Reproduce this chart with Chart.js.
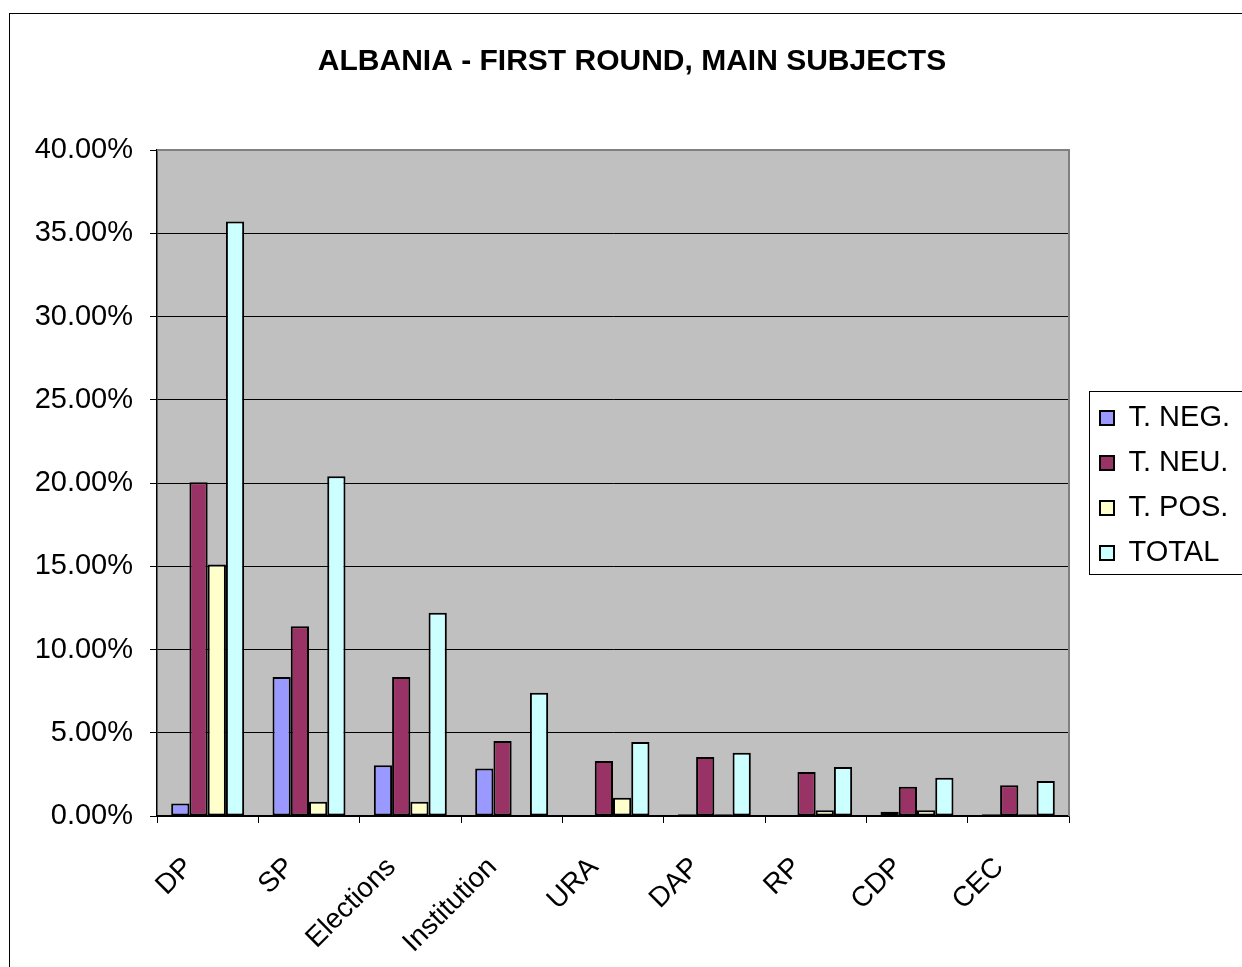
<!DOCTYPE html>
<html>
<head>
<meta charset="utf-8">
<script src="https://cdn.jsdelivr.net/npm/chart.js@4/dist/chart.umd.min.js"></script>
<style>
  html, body { margin: 0; padding: 0; background: #fff; }
  #wrap { position: relative; width: 1242px; height: 967px; }
</style>
</head>
<body>
<div id="wrap"><canvas id="chart" width="1242" height="967"></canvas></div>
<script>
// Subjects and their share of coverage (%), by tone
const categories = ['DP', 'SP', 'Elections', 'Institution', 'URA', 'DAP', 'RP', 'CDP', 'CEC'];
const negValues   = [0.75, 8.35, 3.05, 2.85, 0,    0.1,  0,    0.25, 0.1];
const neuValues   = [20.05, 11.4, 8.35, 4.5, 3.3,  3.55, 2.65, 1.75, 1.85];
const posValues   = [15.1, 0.85, 0.85, 0,    1.1,  0.1,  0.35, 0.35, 0.1];
const totalValues = [35.7, 20.4, 12.2, 7.4,  4.45, 3.8,  2.95, 2.3,  2.1];
const seriesNames = ['T. NEG.', 'T. NEU.', 'T. POS.', 'TOTAL'];
const yTicks = [0, 5, 10, 15, 20, 25, 30, 35, 40];

const FONT = "'Liberation Sans', Arial, sans-serif";

const plotBackground = {
  id: 'plotBackground',
  beforeDraw(chart) {
    const { ctx, chartArea: a } = chart;
    ctx.save();
    ctx.fillStyle = '#C0C0C0';
    ctx.fillRect(a.left, a.top, a.right - a.left, a.bottom - a.top);
    ctx.restore();
  },
  beforeDatasetsDraw(chart) {
    const { ctx, chartArea: a } = chart;
    ctx.save();
    ctx.strokeStyle = '#808080';
    ctx.lineWidth = 2;
    ctx.beginPath();
    ctx.moveTo(a.left, a.top);
    ctx.lineTo(a.right, a.top);
    ctx.lineTo(a.right, a.bottom);
    ctx.stroke();
    ctx.restore();
  }
};

// Fixed legend column width, and a framed legend box
const legendFrame = {
  id: 'legendFrame',
  beforeUpdate(chart) {
    const lg = chart.legend;
    if (lg && !lg._widthFixed) {
      const fit = lg.fit;
      lg.fit = function () { fit.call(this); this.width = 173; };
      lg._widthFixed = true;
    }
  },
  afterLayout(chart) {
    const lg = chart.legend;
    lg.left += 15;
    lg.right += 15;
    lg.top += 2;
    lg.bottom += 2;
  },
  afterDraw(chart) {
    const { ctx } = chart;
    const hb = chart.legend.legendHitBoxes;
    if (!hb || !hb.length) return;
    const first = hb[0], last = hb[hb.length - 1];
    const top = first.top + first.height / 2 - 27;
    const bottom = last.top + last.height / 2 + 21;
    const left = first.left - 11;
    ctx.save();
    ctx.strokeStyle = '#000';
    ctx.lineWidth = 1;
    ctx.strokeRect(Math.round(left) + 0.5, Math.round(top) + 0.5, 400, Math.round(bottom - top));
    // outer frame of the chart object
    ctx.strokeRect(9.5, 13.5, 1400, 1200);
    ctx.restore();
  }
};

const colors = ['#9999FF', '#993366', '#FFFFCC', '#CCFFFF'];
const seriesValues = [negValues, neuValues, posValues, totalValues];

new Chart(document.getElementById('chart'), {
  type: 'bar',
  data: {
    labels: categories,
    datasets: seriesNames.map((name, i) => ({
      label: name,
      data: seriesValues[i],
      backgroundColor: colors[i],
      borderColor: '#000',
      borderWidth: c => (c.raw === 0 ? 0 : 2),
      borderSkipped: false,
      categoryPercentage: 0.72,
      barPercentage: 1.0
    }))
  },
  options: {
    responsive: false,
    animation: false,
    devicePixelRatio: 1,
    layout: { padding: { left: 22, right: 0, top: 0, bottom: 0 } },
    plugins: {
      title: {
        display: true,
        text: 'ALBANIA - FIRST ROUND, MAIN SUBJECTS',
        color: '#000',
        font: { family: FONT, size: 30, weight: 'bold', lineHeight: 1.2 },
        padding: { top: 44, bottom: 70 }
      },
      legend: {
        display: true,
        position: 'right',
        align: 'center',
        labels: {
          color: '#000',
          font: { family: FONT, size: 29, lineHeight: 1.2 },
          boxWidth: 14,
          boxHeight: 14,
          padding: 16
        }
      },
      tooltip: { enabled: false }
    },
    scales: {
      x: {
        afterFit(s) { s.height = 151; },
        grid: {
          display: true,
          offset: true,
          drawOnChartArea: false,
          drawTicks: true,
          tickLength: 7,
          color: '#000',
          lineWidth: 1
        },
        border: { color: '#000', width: 1.5 },
        ticks: {
          color: '#000',
          font: { family: FONT, size: 28 },
          minRotation: 45,
          maxRotation: 45,
          autoSkip: false,
          padding: 28,
          labelOffset: -19
        }
      },
      y: {
        min: 0,
        max: 40,
        afterFit(s) { s.width = 135; },
        afterBuildTicks(s) { s.ticks = yTicks.map(v => ({ value: v })); },
        grid: {
          color: '#000',
          lineWidth: 1,
          tickLength: 7
        },
        border: { color: '#000', width: 1.5 },
        ticks: {
          color: '#000',
          font: { family: FONT, size: 29 },
          padding: 17,
          callback: v => v.toFixed(2) + '%'
        }
      }
    }
  },
  plugins: [plotBackground, legendFrame]
});
</script>
</body>
</html>
